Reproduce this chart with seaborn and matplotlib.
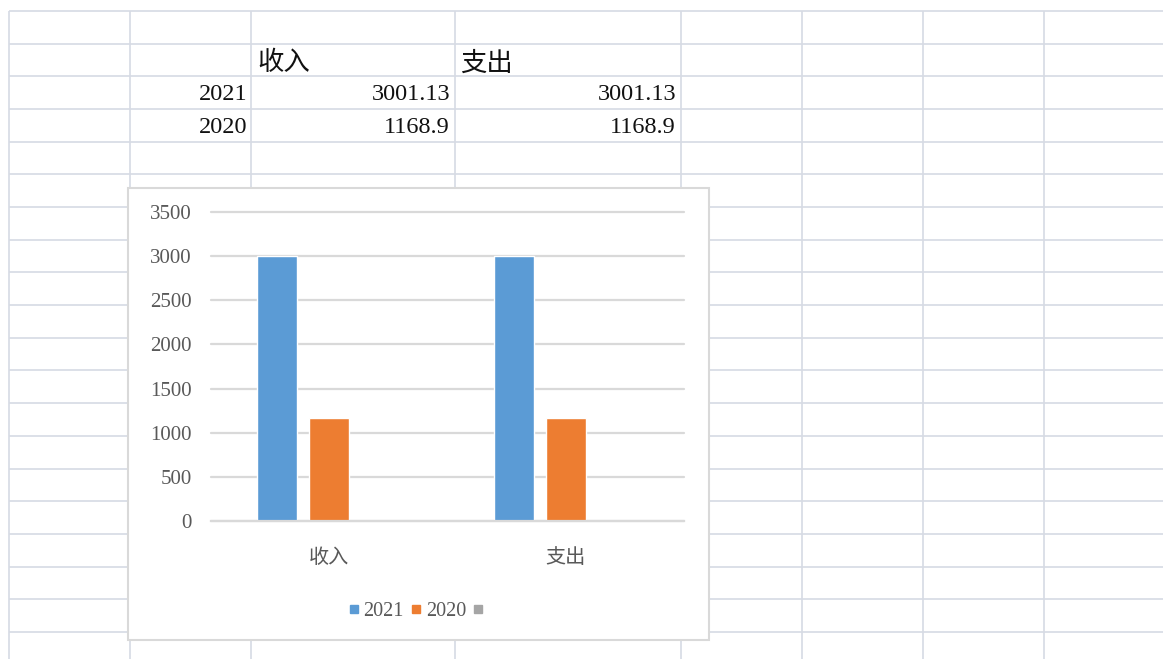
import numpy as np
import pandas as pd
import seaborn as sns
import matplotlib.pyplot as plt
from matplotlib.patches import Rectangle
from matplotlib.lines import Line2D

# ── Data ────────────────────────────────────────────────────────────────────
categories = ['收入', '支出']
years      = ['2021', '2020']
income     = [3001.13, 1168.9]
expense    = [3001.13, 1168.9]
income_txt  = ['3001.13', '1168.9']
expense_txt = ['3001.13', '1168.9']
empty_name = ' '                      # third (empty) series in the chart
yticks     = [0, 500, 1000, 1500, 2000, 2500, 3000, 3500]

BLUE, ORANGE, GREY = '#5B9BD5', '#ED7D31', '#A5A5A5'
SHEET_LINE = '#d6dae4'
W, H = 1163, 659

sns.set_style('white')
plt.rcParams['font.family'] = ['Liberation Serif', 'Noto Sans CJK SC', 'DejaVu Sans']
CJK = ['Noto Sans CJK SC', 'DejaVu Sans']

rows = []
for i, yr in enumerate(years):
    rows.append({'category': categories[0], 'series': yr, 'value': income[i]})
    rows.append({'category': categories[1], 'series': yr, 'value': expense[i]})
for c in categories:
    rows.append({'category': c, 'series': empty_name, 'value': np.nan})
df = pd.DataFrame(rows)

fig = plt.figure(figsize=(W / 100, H / 100), dpi=100)

# ── Spreadsheet background ──────────────────────────────────────────────────
bg = fig.add_axes([0, 0, 1, 1])
bg.set_xlim(0, W); bg.set_ylim(H, 0); bg.axis('off')

col_x = [9, 130, 251, 455, 681, 802, 923, 1044]
row_y = [11 + 32.68 * k for k in range(20)]
bg.hlines(row_y, 9, W, color=SHEET_LINE, lw=1.2)
bg.vlines(col_x, 11, H, color=SHEET_LINE, lw=1.2)

# table contents
bg.text(257, 63, categories[0], fontsize=19, family=CJK, va='center', ha='left', color='#111111')
bg.text(460, 63, categories[1], fontsize=19, family=CJK, va='center', ha='left', color='#111111')
for i, yr in enumerate(years):
    y = 95 + 32.68 * i
    bg.text(247, y, yr, fontsize=17.5, ha='right', va='center', color='#111111')
    bg.text(450, y, income_txt[i], fontsize=17.5, ha='right', va='center', color='#111111')
    bg.text(676, y, expense_txt[i], fontsize=17.5, ha='right', va='center', color='#111111')

# chart frame
bg.add_patch(Rectangle((128, 188), 581, 452, facecolor='white', edgecolor='#d9d9d9', lw=1.5, zorder=5))

# ── Chart ───────────────────────────────────────────────────────────────────
ax = fig.add_axes([211 / W, 1 - 521 / H, 473 / W, 309 / H])
ax.set_facecolor('none')
sns.barplot(data=df, x='category', y='value', hue='series', order=categories,
            hue_order=years + [empty_name], palette=[BLUE, ORANGE, GREY],
            width=0.6596, gap=0.2308, saturation=1, errorbar=None, legend=False, ax=ax)

ax.set_xlim(-0.5, 1.5)
ax.set_ylim(0, 3500)
ax.set_yticks(yticks)
ax.set_xlabel(''); ax.set_ylabel('')
ax.set_axisbelow(True)
ax.yaxis.grid(True, color='#d9d9d9', lw=1.6)
for s in ['top', 'right', 'left']:
    ax.spines[s].set_visible(False)
ax.spines['bottom'].set_color('#d9d9d9')
ax.spines['bottom'].set_linewidth(1.6)
ax.tick_params(axis='y', length=0, pad=14, labelsize=15, labelcolor='#595959')
ax.tick_params(axis='x', length=0, pad=19, labelsize=14.5, labelcolor='#595959')
for lab in ax.get_xticklabels():
    lab.set_family(CJK)
for gl in ax.yaxis.get_gridlines():
    gl.set_clip_on(False)

handles = [Line2D([], [], marker='s', ls='', ms=5.5, color=c) for c in (BLUE, ORANGE, GREY)]
fig.legend(handles, years + [''], loc='center', bbox_to_anchor=(419 / W, 1 - 611 / H),
           ncol=3, frameon=False, fontsize=14.5, handlelength=0.4, handletextpad=0.3,
           columnspacing=0.4, labelcolor='#595959')

fig.savefig('out.png', dpi=100)
